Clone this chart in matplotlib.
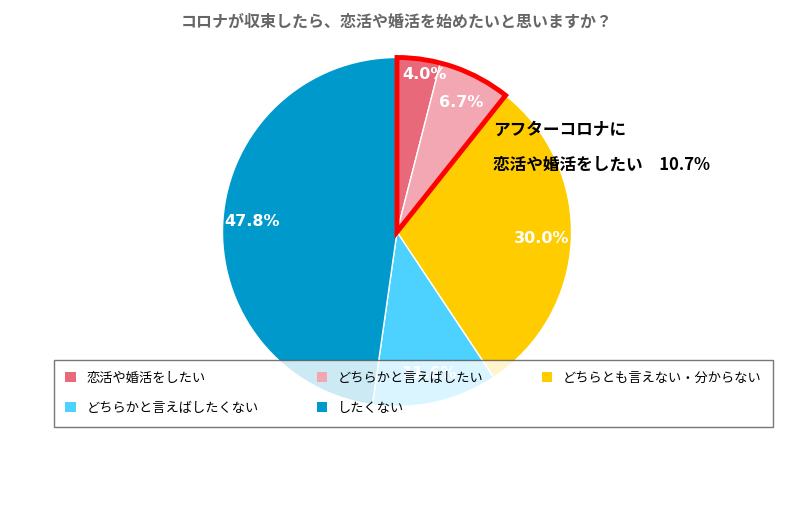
import matplotlib
matplotlib.use("Agg")
import matplotlib.pyplot as plt
from matplotlib.patches import Wedge, Patch

plt.rcParams["font.family"] = "Noto Sans CJK JP"

title = "コロナが収束したら、恋活や婚活を始めたいと思いますか？"
categories = ["恋活や婚活をしたい", "どちらかと言えばしたい", "どちらとも言えない・分からない",
              "どちらかと言えばしたくない", "したくない"]
values = [4.0, 6.7, 30.0, 11.6, 47.8]
colors = ["#E8697A", "#F2A7B2", "#FFCC00", "#4DD2FF", "#0099CC"]
after_corona = 10.7

W, H = 806, 512
fig = plt.figure(figsize=(W/100, H/100), dpi=100)
cx, cy, r = 397, 232, 178
ax = fig.add_axes([(cx-r)/W, (H-cy-r)/H, 2*r/W, 2*r/H])
ax.set_aspect("equal")
wedges, texts, autotexts = ax.pie(values, colors=colors, startangle=90, counterclock=False,
       autopct="%.1f%%", pctdistance=0.83, radius=1,
       wedgeprops=dict(edgecolor="white", linewidth=1),
       textprops=dict(color="white", fontsize=11.5, fontweight="bold", fontfamily="DejaVu Sans"))
autotexts[0].set_position((0.16, 0.90))
total = sum(values)
ang = after_corona / total * 360
ax.add_patch(Wedge((0, 0), 1, 90 - ang, 90, fill=False, edgecolor="#FF0000", linewidth=3.5, zorder=5))
ax.set_xlim(-1.02, 1.02); ax.set_ylim(-1.02, 1.02)
ax.axis("off")

fig.text(397/W, 1-22/H, title, ha="center", va="center", fontsize=11.5, fontweight="bold", color="#666666")
fig.text(493/W, 1-130/H, "アフターコロナに", ha="left", va="center", fontsize=12, fontweight="bold")
fig.text(493/W, 1-165/H, f"恋活や婚活をしたい　{after_corona}%", ha="left", va="center", fontsize=12, fontweight="bold")

order = [0, 3, 1, 4, 2]
handles = [Patch(facecolor=colors[i], edgecolor="none") for i in order]
labels = [categories[i] for i in order]
leg = fig.legend(handles, labels, loc="upper left",
                 bbox_to_anchor=(47/W, 1-425/H, 733/W, 72/H), mode="expand",
                 ncol=3, fontsize=9.5, frameon=True, fancybox=False, edgecolor="#555555",
                 handlelength=0.8, handleheight=0.8, borderpad=0.9,
                 labelspacing=1.3)
leg.get_frame().set_linewidth(1)
fig.savefig("out.png", dpi=100)
